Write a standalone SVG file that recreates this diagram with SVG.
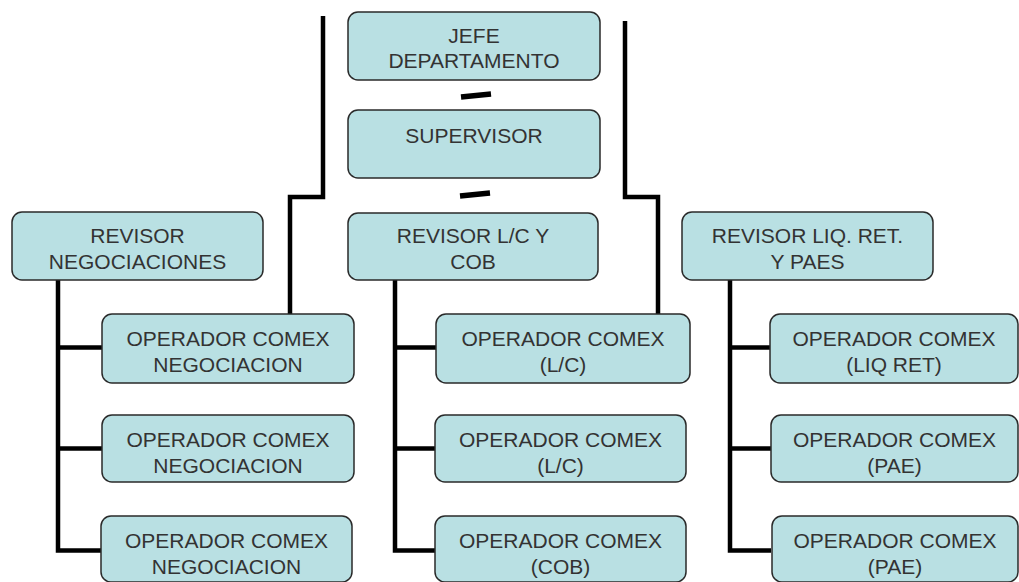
<svg xmlns="http://www.w3.org/2000/svg" width="1019" height="582" viewBox="0 0 1019 582">
<style>
.box{fill:#b9e0e3;stroke:#2a2a2a;stroke-width:1.5}
.t{font-family:"Liberation Sans",Arial,sans-serif;font-size:21px;fill:#333;text-anchor:middle}
.c{fill:none;stroke:#000;stroke-width:4.5;stroke-linecap:butt;stroke-linejoin:miter}
.d{stroke:#000;stroke-width:5.5}
</style>
<rect width="1019" height="582" fill="#fff"/>
<g id="connectors">
<polyline class="c" points="323,16 323,197 290,197 290,314"/>
<polyline class="c" points="625,21 625,197 658,197 658,314"/>
<line class="d" x1="461" y1="97" x2="491" y2="94"/>
<line class="d" x1="460" y1="196" x2="490" y2="193"/>
<polyline class="c" points="58,280 58,550.5 102,550.5"/>
<line class="c" x1="58" y1="347.5" x2="102" y2="347.5"/>
<line class="c" x1="58" y1="448.5" x2="102" y2="448.5"/>
<polyline class="c" points="395,280 395,550.5 436,550.5"/>
<line class="c" x1="395" y1="347.5" x2="436" y2="347.5"/>
<line class="c" x1="395" y1="448.5" x2="436" y2="448.5"/>
<polyline class="c" points="730,280 730,550.5 771,550.5"/>
<line class="c" x1="730" y1="347.5" x2="771" y2="347.5"/>
<line class="c" x1="730" y1="448.5" x2="771" y2="448.5"/>
</g>
<g id="jefe"><rect class="box" x="348" y="12" width="252" height="68" rx="10"/><text class="t" x="474" y="43">JEFE</text><text class="t" x="474" y="68">DEPARTAMENTO</text></g>
<g id="supervisor"><rect class="box" x="348" y="110" width="252" height="68" rx="10"/><text class="t" x="474" y="143">SUPERVISOR</text></g>
<g id="rev-neg"><rect class="box" x="12" y="212" width="251" height="68" rx="10"/><text class="t" x="137.5" y="243">REVISOR</text><text class="t" x="137.5" y="269">NEGOCIACIONES</text></g>
<g id="rev-lc"><rect class="box" x="348" y="213" width="250" height="67" rx="10"/><text class="t" x="473" y="243">REVISOR L/C Y</text><text class="t" x="473" y="269">COB</text></g>
<g id="rev-liq"><rect class="box" x="682" y="212" width="251" height="68" rx="10"/><text class="t" x="807.5" y="243">REVISOR LIQ. RET.</text><text class="t" x="807.5" y="269">Y PAES</text></g>
<g id="op-neg1"><rect class="box" x="102" y="314" width="252" height="69" rx="10"/><text class="t" x="228" y="346">OPERADOR COMEX</text><text class="t" x="228" y="372">NEGOCIACION</text></g>
<g id="op-neg2"><rect class="box" x="102" y="415" width="252" height="67" rx="10"/><text class="t" x="228" y="447">OPERADOR COMEX</text><text class="t" x="228" y="473">NEGOCIACION</text></g>
<g id="op-neg3"><rect class="box" x="101" y="516" width="251" height="66" rx="10"/><text class="t" x="226.5" y="548">OPERADOR COMEX</text><text class="t" x="226.5" y="574">NEGOCIACION</text></g>
<g id="op-lc1"><rect class="box" x="436" y="314" width="254" height="69" rx="10"/><text class="t" x="563" y="346">OPERADOR COMEX</text><text class="t" x="563" y="372">(L/C)</text></g>
<g id="op-lc2"><rect class="box" x="435" y="415" width="251" height="67" rx="10"/><text class="t" x="560.5" y="447">OPERADOR COMEX</text><text class="t" x="560.5" y="473">(L/C)</text></g>
<g id="op-cob"><rect class="box" x="435" y="516" width="251" height="66" rx="10"/><text class="t" x="560.5" y="548">OPERADOR COMEX</text><text class="t" x="560.5" y="574">(COB)</text></g>
<g id="op-liq"><rect class="box" x="770" y="314" width="248" height="69" rx="10"/><text class="t" x="894" y="346">OPERADOR COMEX</text><text class="t" x="894" y="372">(LIQ RET)</text></g>
<g id="op-pae1"><rect class="box" x="771" y="415" width="247" height="67" rx="10"/><text class="t" x="894.5" y="447">OPERADOR COMEX</text><text class="t" x="894.5" y="473">(PAE)</text></g>
<g id="op-pae2"><rect class="box" x="772" y="516" width="246" height="66" rx="10"/><text class="t" x="895" y="548">OPERADOR COMEX</text><text class="t" x="895" y="574">(PAE)</text></g>
</svg>
